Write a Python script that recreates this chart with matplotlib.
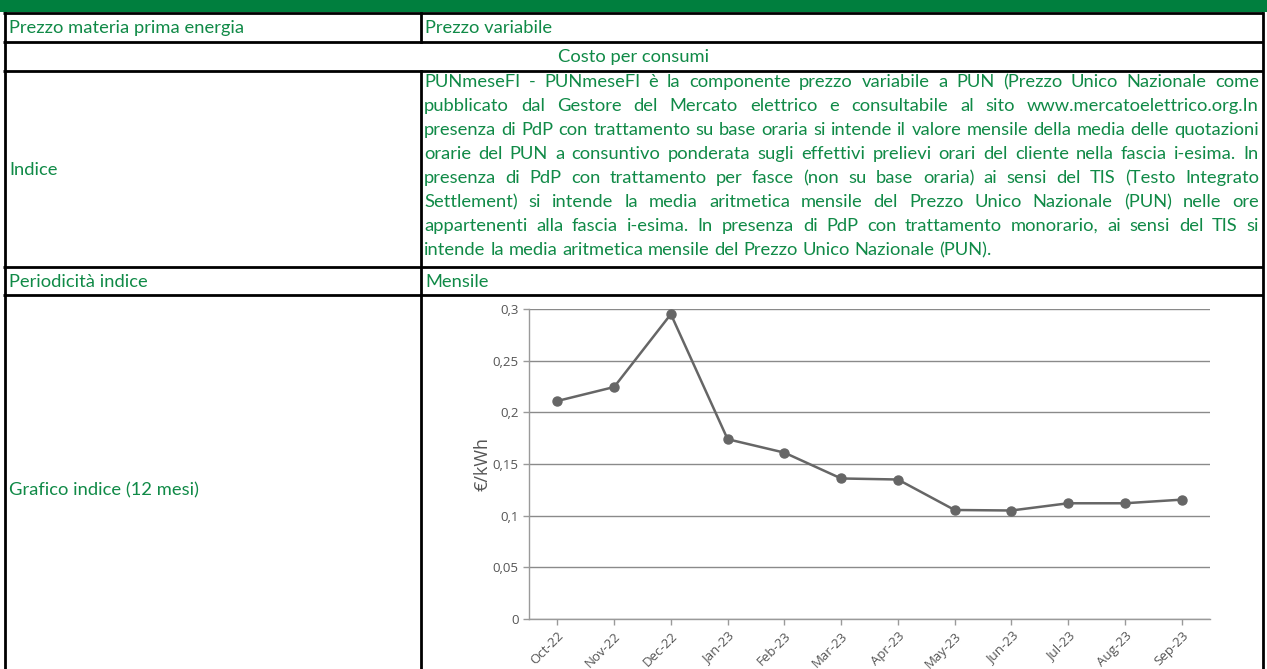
import matplotlib
matplotlib.use('Agg')
import matplotlib.pyplot as plt
from matplotlib.patches import Rectangle

# ---- data -------------------------------------------------------------
MONTHS = ['Oct-22', 'Nov-22', 'Dec-22', 'Jan-23', 'Feb-23', 'Mar-23',
          'Apr-23', 'May-23', 'Jun-23', 'Jul-23', 'Aug-23', 'Sep-23']
PUN = [0.211, 0.2245, 0.295, 0.174, 0.161, 0.136,
       0.135, 0.1055, 0.105, 0.112, 0.112, 0.1155]
Y_TICKS = [0, 0.05, 0.1, 0.15, 0.2, 0.25, 0.3]
Y_TICK_LABELS = ['0', '0,05', '0,1', '0,15', '0,2', '0,25', '0,3']

LEFT_CELLS = ['Prezzo materia prima energia', 'Indice',
              'Periodicità indice', 'Grafico indice (12 mesi)']
RIGHT_CELLS = ['Prezzo variabile', 'Mensile']
MERGED_CELL = 'Costo per consumi'
PARAGRAPH = [
    'PUNmeseFI - PUNmeseFI è la componente prezzo variabile a PUN (Prezzo Unico Nazionale come',
    'pubblicato dal Gestore del Mercato elettrico e consultabile al sito www.mercatoelettrico.org.In',
    'presenza di PdP con trattamento su base oraria si intende il valore mensile della media delle quotazioni',
    'orarie del PUN a consuntivo ponderata sugli effettivi prelievi orari del cliente nella fascia i-esima. In',
    'presenza di PdP con trattamento per fasce (non su base oraria) ai sensi del TIS (Testo Integrato',
    'Settlement) si intende la media aritmetica mensile del Prezzo Unico Nazionale (PUN) nelle ore',
    'appartenenti alla fascia i-esima. In presenza di PdP con trattamento monorario, ai sensi del TIS si',
    'intende la media aritmetica mensile del Prezzo Unico Nazionale (PUN).',
]

W, H = 1267, 669
GREEN = '#007f3e'
TXT = '#108a47'
FONT = 'Lato'
FS = 13.2

fig = plt.figure(figsize=(W / 100, H / 100), dpi=100)
fig.patch.set_facecolor('white')

# pixel-space overlay for the table
tab = fig.add_axes([0, 0, 1, 1])
tab.set_xlim(0, W)
tab.set_ylim(H, 0)
tab.axis('off')

# header band
tab.add_patch(Rectangle((0, 0), W, 12, facecolor=GREEN, edgecolor='none'))

XL, XM, XR = 5, 421, 1263
rows = [13, 42, 71, 267, 295]
lw = 2
for y in rows:
    tab.plot([XL - 2, XR], [y, y], color='black', lw=lw, solid_capstyle='butt')
tab.plot([XL, XL], [13, H], color='black', lw=lw)
tab.plot([XR, XR], [13, H], color='black', lw=lw)
tab.plot([XM, XM], [13, 42], color='black', lw=lw)
tab.plot([XM, XM], [71, H], color='black', lw=lw)

# left / right cells
left_y = [28, 170, 282, 490]
for t, y in zip(LEFT_CELLS, left_y):
    tab.text(9, y, t, color=TXT, fontsize=FS, family=FONT, va='center', ha='left')
for t, y in zip(RIGHT_CELLS, [28, 282]):
    tab.text(425, y, t, color=TXT, fontsize=FS, family=FONT, va='center', ha='left')
tab.text((XL + XR) / 2, 57, MERGED_CELL, color=TXT, fontsize=FS, family=FONT,
         va='center', ha='center')

# justified paragraph
fig.canvas.draw()
rend = fig.canvas.get_renderer()


def width_of(s):
    t = tab.text(0, 0, s, fontsize=FS, family=FONT)
    wd = t.get_window_extent(rend).width
    t.remove()
    return wd


space = width_of('a a') - width_of('aa')
px0, px1 = 424, 1259
y0, dy = 82, 24
for i, line in enumerate(PARAGRAPH):
    words = line.split(' ')
    y = y0 + i * dy
    objs = [tab.text(0, y, w_, color=TXT, fontsize=FS, family=FONT,
                     va='center', ha='left') for w_ in words]
    widths = [o.get_window_extent(rend).width for o in objs]
    if i == len(PARAGRAPH) - 1:
        gap = space
    else:
        gap = (px1 - px0 - sum(widths)) / (len(words) - 1)
    x = px0
    for o, wd in zip(objs, widths):
        o.set_x(x)
        x += wd + gap

# chart
ax = fig.add_axes([529 / W, (H - 619) / H, (1210 - 529) / W, (619 - 309) / H])
xs = list(range(len(MONTHS)))
ax.plot(xs, PUN, color='#666666', lw=1.8, marker='o', ms=6.5, zorder=3)
ax.set_xlim(-0.5, len(MONTHS) - 0.5)
ax.set_ylim(0, 0.3)
ax.set_yticks(Y_TICKS)
ax.set_yticklabels(Y_TICK_LABELS)
ax.set_xticks(xs)
ax.set_xticklabels(MONTHS, rotation=45, ha='right', rotation_mode='anchor')
ax.yaxis.grid(True, color='#8a8a8a', lw=1)
ax.set_axisbelow(True)
for s in ['top', 'right']:
    ax.spines[s].set_visible(False)
for s in ['left', 'bottom']:
    ax.spines[s].set_color('#9a9a9a')
    ax.spines[s].set_linewidth(1)
ax.tick_params(axis='both', colors='#9a9a9a', length=4, width=1,
               labelcolor='#555555', labelsize=9.5)
for lab in ax.get_xticklabels() + ax.get_yticklabels():
    lab.set_family('Open Sans')
ax.set_ylabel('€/kWh', fontsize=13, color='#555555', family='Open Sans')
ax.yaxis.set_label_coords(-0.055, 0.5)

fig.savefig('out.png', dpi=100, facecolor='white')
